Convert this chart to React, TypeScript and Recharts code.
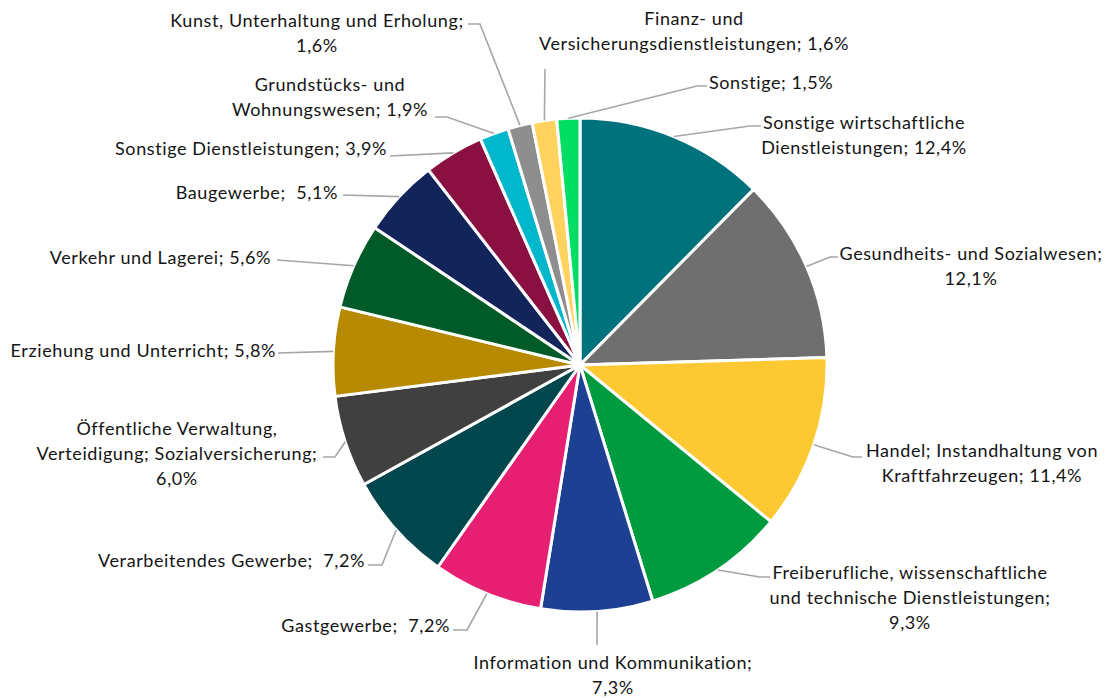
import React from "react";
import { PieChart, Pie, Cell } from "recharts";

const categories = [
  "Sonstige wirtschaftliche Dienstleistungen",
  "Gesundheits- und Sozialwesen",
  "Handel; Instandhaltung von Kraftfahrzeugen",
  "Freiberufliche, wissenschaftliche und technische Dienstleistungen",
  "Information und Kommunikation",
  "Gastgewerbe",
  "Verarbeitendes Gewerbe",
  "Öffentliche Verwaltung, Verteidigung; Sozialversicherung",
  "Erziehung und Unterricht",
  "Verkehr und Lagerei",
  "Baugewerbe",
  "Sonstige Dienstleistungen",
  "Grundstücks- und Wohnungswesen",
  "Kunst, Unterhaltung und Erholung",
  "Finanz- und Versicherungsdienstleistungen",
  "Sonstige",
];

const values = [12.4, 12.1, 11.4, 9.3, 7.3, 7.2, 7.2, 6.0, 5.8, 5.6, 5.1, 3.9, 1.9, 1.6, 1.6, 1.5];

const labelLines = [
  ["Sonstige wirtschaftliche", "Dienstleistungen; 12,4%"],
  ["Gesundheits- und Sozialwesen;", "12,1%"],
  ["Handel; Instandhaltung von", "Kraftfahrzeugen; 11,4%"],
  ["Freiberufliche, wissenschaftliche", "und technische Dienstleistungen;", "9,3%"],
  ["Information und Kommunikation;", "7,3%"],
  ["Gastgewerbe;  7,2%"],
  ["Verarbeitendes Gewerbe;  7,2%"],
  ["Öffentliche Verwaltung,", "Verteidigung; Sozialversicherung;", "6,0%"],
  ["Erziehung und Unterricht; 5,8%"],
  ["Verkehr und Lagerei; 5,6%"],
  ["Baugewerbe;  5,1%"],
  ["Sonstige Dienstleistungen; 3,9%"],
  ["Grundstücks- und", "Wohnungswesen; 1,9%"],
  ["Kunst, Unterhaltung und Erholung;", "1,6%"],
  ["Finanz- und", "Versicherungsdienstleistungen; 1,6%"],
  ["Sonstige; 1,5%"],
];

const colors = [
  "#00727C", "#6F6F6F", "#FDC932", "#009B3F", "#1E4093", "#E61F72",
  "#02474D", "#404040", "#B78A02", "#005B28", "#13245A", "#8A1042",
  "#00B7CB", "#8E8E8E", "#FFD35D", "#00DE63",
];

// label layout relative to pie center: knee, end of leader, text anchor point, alignment
const labelLayout = [
  { kx: 170, ky: -239, ex: 181, ey: -239, tx: 284, ty: -243, a: "middle" },
  { kx: 250, ky: -108, ex: 258, ey: -108, tx: 391, ty: -112, a: "middle" },
  { kx: 273, ky: 92, ex: 282, ey: 92, tx: 402, ty: 85, a: "middle" },
  { kx: 180, ky: 212, ex: 190, ey: 212, tx: 330, ty: 207, a: "middle" },
  { kx: 17, ky: 280, ex: 17, ey: 280, tx: 33, ty: 297, a: "middle" },
  { kx: -113, ky: 265, ex: -127, ey: 265, tx: -130, ty: 260, a: "end" },
  { kx: -198, ky: 200, ex: -212, ey: 200, tx: -215, ty: 195, a: "end" },
  { kx: -245, ky: 92, ex: -257, ey: 92, tx: -403, ty: 63, a: "middle" },
  { kx: -302, ky: -12, ex: -302, ey: -12, tx: -304, ty: -15, a: "end" },
  { kx: -303, ky: -105, ex: -303, ey: -105, tx: -309, ty: -108, a: "end" },
  { kx: -237, ky: -170, ex: -237, ey: -170, tx: -242, ty: -173, a: "end" },
  { kx: -190, ky: -209, ex: -190, ey: -209, tx: -193, ty: -217, a: "end" },
  { kx: -133, ky: -248, ex: -145, ey: -248, tx: -250, ty: -281, a: "middle" },
  { kx: -100, ky: -341, ex: -112, ey: -341, tx: -263, ty: -345, a: "middle" },
  { kx: -35, ky: -296, ex: -35, ey: -296, tx: 114, ty: -347, a: "middle" },
  { kx: 117, ky: -279, ex: 127, ey: -279, tx: 129, ty: -283, a: "start" },
];

const data = categories.map((name, i) => ({ name, value: values[i] }));

const RAD = Math.PI / 180;
const LINE_H = 25;

const renderLabel = (props: any) => {
  const { cx, cy, midAngle, outerRadius, index } = props;
  const L = labelLayout[index];
  const sx = cx + outerRadius * Math.cos(-midAngle * RAD);
  const sy = cy + outerRadius * Math.sin(-midAngle * RAD);
  const lines = labelLines[index];
  return (
    <g key={`lbl-${index}`}>
      <polyline
        points={`${sx},${sy} ${cx + L.kx},${cy + L.ky} ${cx + L.ex},${cy + L.ey}`}
        fill="none"
        stroke="#A6A6A6"
        strokeWidth={1.6}
      />
      <text
        x={cx + L.tx}
        y={cy + L.ty}
        textAnchor={L.a}
        fill="#141414"
        fontSize={18}
        letterSpacing={0.6}
        fontFamily="Lato, 'Open Sans', sans-serif"
        dominantBaseline="central"
      >
        {lines.map((ln, j) => (
          <tspan key={j} x={cx + L.tx} dy={j === 0 ? 0 : LINE_H} style={{ whiteSpace: "pre" }}>
            {ln}
          </tspan>
        ))}
      </text>
    </g>
  );
};

export default function App() {
  return (
    <div style={{ position: "absolute", left: 0, top: 0, width: 1111, height: 698, background: "#fff" }}>
      <PieChart width={1111} height={698} margin={{ top: 0, right: 0, bottom: 0, left: 0 }}>
        <Pie
          data={data}
          dataKey="value"
          nameKey="name"
          cx={580}
          cy={365}
          outerRadius={247}
          startAngle={90}
          endAngle={-270}
          stroke="#FFFFFF"
          strokeWidth={3}
          label={renderLabel}
          labelLine={false}
          isAnimationActive={false}
        >
          {data.map((d, i) => (
            <Cell key={d.name} fill={colors[i]} />
          ))}
        </Pie>
      </PieChart>
    </div>
  );
}
